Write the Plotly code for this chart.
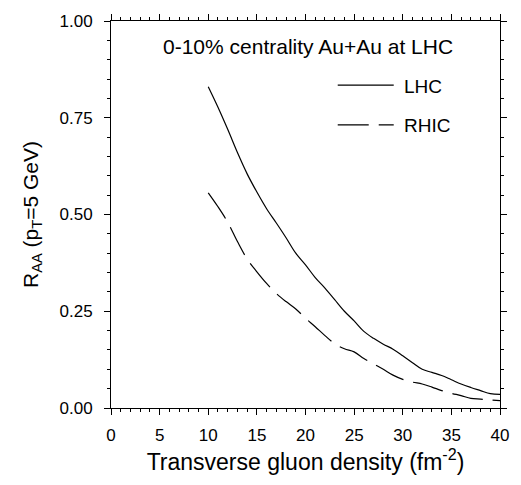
import plotly.graph_objects as go

density = [10, 11, 12, 13, 14, 15, 16, 17, 18, 19, 20, 21, 22, 23, 24, 25,
           26, 27, 28, 29, 30, 31, 32, 33, 34, 35, 36, 37, 38, 39, 40]
raa_lhc = [0.83, 0.777, 0.72, 0.66, 0.605, 0.558, 0.515, 0.478, 0.44, 0.40,
           0.37, 0.337, 0.31, 0.28, 0.25, 0.225, 0.198, 0.18, 0.165, 0.152,
           0.135, 0.117, 0.10, 0.092, 0.084, 0.073, 0.062, 0.053, 0.045,
           0.037, 0.035]
raa_rhic = [0.556, 0.52, 0.48, 0.43, 0.385, 0.352, 0.322, 0.296, 0.275, 0.256,
            0.232, 0.21, 0.187, 0.166, 0.153, 0.145, 0.128, 0.114, 0.10, 0.085,
            0.074, 0.067, 0.062, 0.054, 0.045, 0.038, 0.032, 0.025, 0.023,
            0.021, 0.019]
x_ticks = [0, 5, 10, 15, 20, 25, 30, 35, 40]
y_ticks = [0.0, 0.25, 0.5, 0.75, 1.0]
y_tick_labels = ["0.00", "0.25", "0.50", "0.75", "1.00"]

FONT = "Liberation Sans, Arial, sans-serif"
NB = "\u00a0"

fig = go.Figure()
fig.add_trace(go.Scatter(x=density, y=raa_lhc, mode="lines", name=NB + "LHC",
                         line=dict(color="black", width=1.2, shape="spline"),
                         legendgroup="a"))
fig.add_trace(go.Scatter(x=density, y=raa_rhic, mode="lines", name=NB + "RHIC",
                         line=dict(color="black", width=1.2, dash="31px,10px",
                                   shape="spline"),
                         legendgroup="b"))

axis_common = dict(showline=True, linecolor="black", linewidth=1, mirror="allticks",
                   ticks="outside", ticklen=6, tickwidth=1, tickcolor="black",
                   showgrid=False, zeroline=False,
                   tickfont=dict(family=FONT, size=17, color="black"))

fig.update_xaxes(range=[0, 40], tickvals=x_ticks, **axis_common, ticklabelstandoff=6,
                 minor=dict(dtick=1, ticks="outside", ticklen=3, tickcolor="black"),
                 title=dict(text="Transverse gluon density (fm<sup>-2</sup>)",
                            font=dict(family=FONT, size=23, color="black"),
                            standoff=8))
fig.update_yaxes(range=[0, 1], tickvals=y_ticks, ticktext=y_tick_labels, **axis_common,
                 ticklabelstandoff=8,
                 minor=dict(dtick=0.05, ticks="outside", ticklen=3, tickcolor="black"),
                 title=dict(text="R<sub>AA</sub> (p<sub>T</sub>=5 GeV)",
                            font=dict(family=FONT, size=21, color="black"),
                            standoff=15))

fig.add_annotation(text="0-10% centrality Au+Au at LHC", xref="paper", yref="paper",
                   x=0.507, y=0.935, showarrow=False, xanchor="center", yanchor="middle",
                   font=dict(family=FONT, size=21, color="black"))

fig.update_layout(
    width=521, height=485,
    margin=dict(l=111, r=13, t=14, b=77),
    plot_bgcolor="white", paper_bgcolor="white",
    showlegend=True,
    legend=dict(x=0.57, y=0.883, xanchor="left", yanchor="top", itemwidth=56,
                bgcolor="rgba(0,0,0,0)", font=dict(family=FONT, size=19, color="black"),
                tracegroupgap=12, traceorder="grouped"),
)

fig.write_html("out.html")
